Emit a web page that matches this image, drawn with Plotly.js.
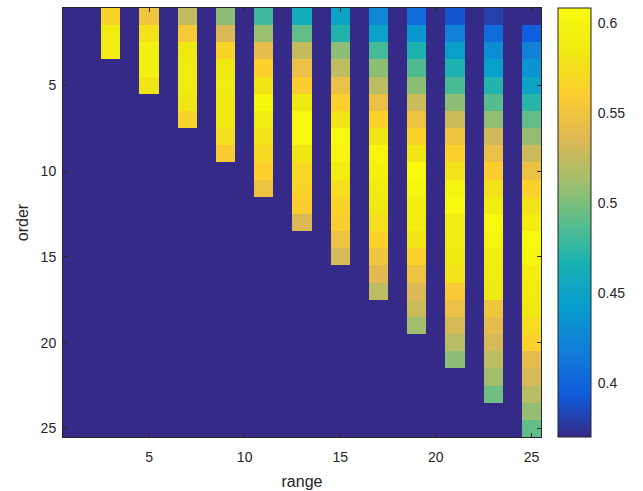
<!DOCTYPE html>
<html>
<head>
<meta charset="utf-8">
<script src="https://cdn.plot.ly/plotly-3.0.1.min.js"></script>
<style>html,body{margin:0;padding:0;background:#fff;}#chart{width:643px;height:491px;}</style>
</head>
<body>
<div id="chart"></div>
<script>
// range values (x) and order values (y)
const rangeVals = [1,2,3,4,5,6,7,8,9,10,11,12,13,14,15,16,17,18,19,20,21,22,23,24,25];
const orderVals = [1,2,3,4,5,6,7,8,9,10,11,12,13,14,15,16,17,18,19,20,21,22,23,24,25];
// columns with data (range value -> values for order 1..n)
const col3  = [0.565,0.588,0.588];
const col5  = [0.550,0.578,0.595,0.595,0.580];
const col7  = [0.525,0.555,0.585,0.587,0.587,0.582,0.565];
const col9  = [0.505,0.535,0.565,0.585,0.587,0.585,0.583,0.575,0.557];
const col11 = [0.480,0.510,0.540,0.562,0.580,0.602,0.590,0.578,0.570,0.562,0.548];
const col13 = [0.460,0.492,0.525,0.545,0.560,0.585,0.603,0.603,0.582,0.570,0.565,0.560,0.535];
const col15 = [0.450,0.470,0.505,0.523,0.545,0.562,0.580,0.604,0.600,0.590,0.575,0.565,0.560,0.548,0.532];
const col17 = [0.425,0.448,0.482,0.505,0.522,0.545,0.563,0.582,0.600,0.595,0.588,0.585,0.575,0.563,0.550,0.538,0.522];
const col19 = [0.405,0.437,0.468,0.486,0.505,0.528,0.548,0.565,0.582,0.605,0.600,0.592,0.590,0.580,0.563,0.548,0.535,0.528,0.512];
const col21 = [0.390,0.420,0.445,0.468,0.484,0.505,0.528,0.550,0.562,0.578,0.600,0.605,0.590,0.588,0.585,0.578,0.556,0.545,0.532,0.520,0.505];
const col23 = [0.380,0.405,0.430,0.445,0.470,0.488,0.507,0.530,0.545,0.560,0.578,0.590,0.603,0.600,0.590,0.588,0.585,0.550,0.540,0.532,0.522,0.512,0.497];
const col25 = [0.370,0.395,0.420,0.435,0.450,0.472,0.492,0.508,0.528,0.546,0.563,0.577,0.590,0.603,0.600,0.590,0.588,0.585,0.572,0.563,0.540,0.532,0.520,0.508,0.492];
const columns = {3:col3,5:col5,7:col7,9:col9,11:col11,13:col13,15:col15,17:col17,19:col19,21:col21,23:col23,25:col25};
const emptyValue = 0;
const xTicks = [5,10,15,20,25];
const yTicks = [5,10,15,20,25];
const cbTicks = [0.4,0.45,0.5,0.55,0.6];

const z = orderVals.map((o, i) => rangeVals.map(r => {
  const c = columns[r];
  return (c && i < c.length) ? c[i] : emptyValue;
}));

const parula = [
  [0,'rgb(53,42,135)'],[0.1,'rgb(15,92,221)'],[0.2,'rgb(18,125,216)'],
  [0.3,'rgb(7,156,207)'],[0.4,'rgb(21,177,180)'],[0.5,'rgb(89,189,140)'],
  [0.6,'rgb(165,190,107)'],[0.7,'rgb(225,185,82)'],[0.8,'rgb(252,206,46)'],
  [0.9,'rgb(239,233,17)'],[1,'rgb(249,251,14)']
];

const fontFam = 'Liberation Sans, Arial, sans-serif';
const axisCol = '#262626';

const trace = {
  type: 'heatmap', x: rangeVals, y: orderVals, z: z,
  colorscale: parula, zmin: 0.37, zmax: 0.6083, zsmooth: false,
  hoverinfo: 'skip',
  colorbar: {
    x: 1.0356, xanchor: 'left', xpad: 0, ypad: 0, y: 0.5, yanchor: 'middle',
    len: 1, lenmode: 'fraction', thickness: 33, thicknessmode: 'pixels',
    outlinewidth: 1, outlinecolor: axisCol,
    tickvals: cbTicks, ticktext: cbTicks.map(String),
    ticks: 'outside', ticklen: 4, tickcolor: '#ffffff00',
    tickfont: {family: fontFam, size: 14, color: axisCol}
  }
};

const layout = {
  width: 643, height: 491,
  margin: {l: 63, r: 102, t: 8, b: 54},
  paper_bgcolor: '#fff', plot_bgcolor: '#fff',
  xaxis: {
    range: [0.5, 25.5], tickvals: xTicks, ticktext: xTicks.map(String),
    ticks: 'inside', ticklen: 4, tickcolor: axisCol, mirror: 'ticks',
    showline: true, linecolor: axisCol, linewidth: 1, showgrid: false, zeroline: false,
    tickfont: {family: fontFam, size: 14, color: axisCol}, ticklabelstandoff: 7,
    title: {text: 'range', font: {family: fontFam, size: 16, color: axisCol}, standoff: 12}
  },
  yaxis: {
    range: [25.5, 0.5], tickvals: yTicks, ticktext: yTicks.map(String),
    ticks: 'inside', ticklen: 4, tickcolor: axisCol, mirror: 'ticks',
    showline: true, linecolor: axisCol, linewidth: 1, showgrid: false, zeroline: false,
    tickfont: {family: fontFam, size: 14, color: axisCol}, ticklabelstandoff: 3,
    title: {text: 'order', font: {family: fontFam, size: 16, color: axisCol}, standoff: 8}
  }
};

Plotly.newPlot('chart', [trace], layout, {staticPlot: true, displayModeBar: false});
</script>
</body>
</html>
